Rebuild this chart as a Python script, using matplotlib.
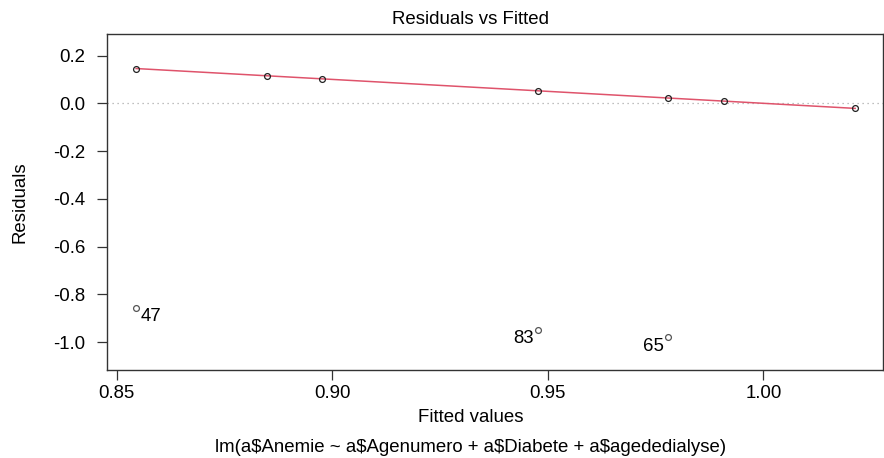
import matplotlib
matplotlib.use("Agg")
import matplotlib.pyplot as plt
from matplotlib.ticker import FormatStrFormatter

plt.rcParams['font.family'] = ['Liberation Sans', 'DejaVu Sans']
plt.rcParams['text.parse_math'] = False

# Data
fitted = [0.8545, 0.8848, 0.8977, 0.9477, 0.9780, 0.9909, 1.0213]
residuals = [0.1455, 0.1152, 0.1023, 0.0523, 0.0220, 0.0091, -0.0213]
out_labels = ["47", "83", "65"]
out_fitted = [0.8545, 0.9477, 0.9780]
out_resid = [-0.8545, -0.9477, -0.9780]
smooth_x = [0.8545, 0.8848, 0.8977, 0.9477, 0.9780, 0.9909, 1.0213]
smooth_y = [0.1455, 0.1152, 0.1023, 0.0523, 0.0220, 0.0091, -0.0213]
x_ticks = [0.85, 0.90, 0.95, 1.00]
y_ticks = [0.2, 0.0, -0.2, -0.4, -0.6, -0.8, -1.0]

W, H = 884, 458
fig = plt.figure(figsize=(W / 100, H / 100), dpi=100)
L, R, T, B = 107, 883, 34, 370
ax = fig.add_axes([L / W, 1 - B / H, (R - L) / W, (B - T) / H])

FS = 13.4
CX = 471 / W

ax.axhline(0, color='#AAAAAA', lw=0.9, ls=(0, (1, 3)), zorder=1)
ax.plot(smooth_x, smooth_y, color='#DF536B', lw=1.1, zorder=2)
ax.plot(fitted, residuals, ls='none', marker='o', ms=4.2, mfc='none',
        mec='#222222', mew=0.9, zorder=3)
ax.plot(out_fitted, out_resid, ls='none', marker='o', ms=4.2, mfc='none',
        mec='#555555', mew=0.9, zorder=3)

xmid = 0.5 * (0.84775 + 1.02776)
for lab, xv, yv in zip(out_labels, out_fitted, out_resid):
    if xv < xmid:
        ax.annotate(lab, (xv, yv), xytext=(3, -0.5), textcoords='offset points',
                    ha='left', va='top', fontsize=FS)
    else:
        ax.annotate(lab, (xv, yv), xytext=(-3, -0.5), textcoords='offset points',
                    ha='right', va='top', fontsize=FS)

ax.set_xlim(0.84775, 1.02776)
ax.set_ylim(-1.116, 0.290)
ax.set_xticks(x_ticks)
ax.set_yticks(y_ticks)
ax.xaxis.set_major_formatter(FormatStrFormatter('%.2f'))
ax.yaxis.set_major_formatter(FormatStrFormatter('%.1f'))
ax.tick_params(axis='both', direction='out', length=7, width=0.9,
               color='#333333', labelsize=FS, pad=4)
ax.tick_params(axis='y', pad=8.5)
for s in ax.spines.values():
    s.set_color('#333333')
    s.set_linewidth(1.0)

fig.text(CX, 1 - 20 / H, "Residuals vs Fitted",
         ha='center', va='center', fontsize=FS)
fig.text(CX, 1 - 418 / H, "Fitted values",
         ha='center', va='center', fontsize=FS)
fig.text(20 / W, 1 - 0.5 * (T + B) / H, "Residuals", rotation=90,
         ha='center', va='center', fontsize=FS)
fig.text(CX, 1 - 447 / H,
         "lm(a$Anemie ~ a$Agenumero + a$Diabete + a$agededialyse)",
         ha='center', va='center', fontsize=FS)

fig.savefig("out.png", dpi=100)
